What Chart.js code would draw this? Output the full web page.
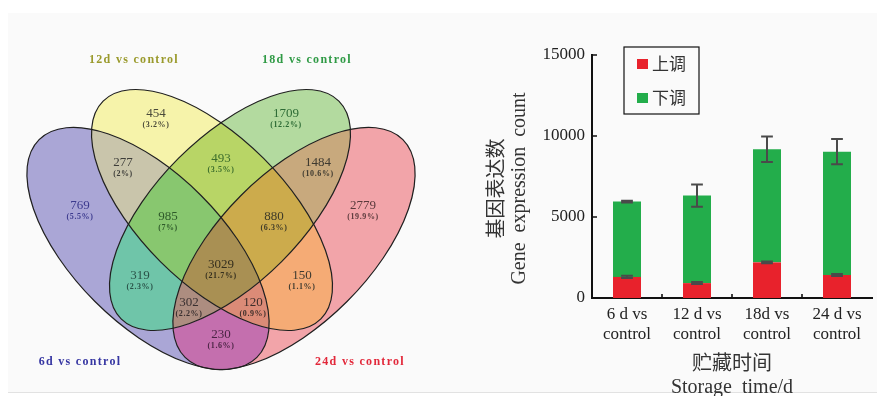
<!DOCTYPE html>
<html>
<head>
<meta charset="utf-8">
<script src="https://cdn.jsdelivr.net/npm/chart.js@4.4.1/dist/chart.umd.min.js"></script>
<style>
  html, body { margin: 0; padding: 0; background: #ffffff; width: 877px; height: 396px; overflow: hidden; position: relative; }
  #panel { position: absolute; left: 8px; top: 13px; width: 869px; height: 379px; background: #fafafa; border-bottom: 1px solid #e2e2e2; }
  #vennBox { position: absolute; left: 0; top: 0; width: 450px; height: 396px; }
  #barBox { position: absolute; left: 450px; top: 0; width: 427px; height: 396px; }
</style>
</head>
<body>
<div id="panel"></div>
<div id="vennBox"><canvas id="venn"></canvas></div>
<div id="barBox"><canvas id="bars"></canvas></div>
<script>
// ---------- Venn diagram data ----------
const vennSets = ['6d vs control', '12d vs control', '18d vs control', '24d vs control'];
// each region lists the indices of the sets it belongs to
const regionKeys = ['0', '1', '2', '3', '01', '12', '23', '012', '123', '0123', '02', '13', '023', '013', '03'];
const regionCounts = [769, 454, 1709, 2779, 277, 493, 1484, 985, 880, 3029, 319, 150, 302, 120, 230];

// ---------- Bar chart data ----------
const categories = [['6 d vs', 'control'], ['12 d vs', 'control'], ['18d vs', 'control'], ['24 d vs', 'control']];
const upCounts = [1300, 920, 2200, 1420];      // 上调
const downCounts = [4650, 5400, 6980, 7610];   // 下调
const upErrors = [70, 60, 60, 60];
const totalErrors = [50, 690, 790, 780];
const yTicks = [0, 5000, 10000, 15000];

// ---------- Styling / layout ----------
const serif = '"Liberation Serif", "Times New Roman", serif';
const cjk = '"Noto Sans CJK SC", "Noto Sans CJK JP", sans-serif';

// ellipse geometry in diagram units (x right, y down)
const vennShapes = [
  { cx: 148, cy: 248.5, a: 154, b: 75, angle: 45 },
  { cx: 212, cy: 210, a: 154, b: 73, angle: 45 },
  { cx: 230, cy: 210, a: 154, b: 73, angle: -45 },
  { cx: 294, cy: 248.5, a: 154, b: 75, angle: -45 }
];
const setLabelColors = ['#3636a2', '#9a9a2c', '#2f9a45', '#e2283a'];
const setLabelPos = [[80, 362], [134, 60], [307, 60], [360, 362]];

const regionFill = ['#aaa6d6', '#f6f3aa', '#b3da9f', '#f2a4a9', '#c9c5ab', '#b8d566', '#c8a97d',
                    '#88c76f', '#ccab4c', '#a99053', '#6fc5a9', '#f5ab75', '#ad8d80', '#db8b77', '#c46fae'];
const regionText = ['#3c3a8e', '#4a4a3a', '#2d6b35', '#5a3a3c', '#3e3e3a', '#3d6e2c', '#3e3a30',
                    '#2f5a2a', '#3e3a28', '#352f1e', '#2a5248', '#3e3a30', '#3a3030', '#3e2e2a', '#4a2444'];
const regionLabelPos = [[80, 206], [156, 114], [286, 114], [363, 206], [123, 163], [221, 159], [318, 163],
                        [168, 217], [274, 217], [221, 265], [140, 276], [302, 276], [189, 303], [253, 303], [221, 335]];

const vennTotal = regionCounts.reduce((s, v) => s + v, 0);
const pctText = v => '(' + (Math.round(v / vennTotal * 1000) / 10) + '%)';

const vennPlugin = {
  id: 'vennShapes',
  beforeDatasetsDraw(chart) {
    const { ctx, scales: { x, y }, width, height } = chart;
    const ux = x.getPixelForValue(1) - x.getPixelForValue(0);
    const uy = Math.abs(y.getPixelForValue(1) - y.getPixelForValue(0));
    const paths = vennShapes.map(s => {
      const p = new Path2D();
      p.ellipse(x.getPixelForValue(s.cx), y.getPixelForValue(s.cy), s.a * ux, s.b * uy,
                s.angle * Math.PI / 180, 0, Math.PI * 2);
      return p;
    });
    regionKeys.forEach((key, r) => {
      ctx.save();
      paths.forEach((p, i) => {
        if (key.includes(String(i))) {
          ctx.clip(p);
        } else {
          const q = new Path2D();
          q.rect(0, 0, width, height);
          q.addPath(p);
          ctx.clip(q, 'evenodd');
        }
      });
      ctx.fillStyle = regionFill[r];
      ctx.fillRect(0, 0, width, height);
      ctx.restore();
    });
    ctx.save();
    ctx.strokeStyle = '#1f1f1f';
    ctx.lineWidth = 1.2;
    paths.forEach(p => ctx.stroke(p));
    ctx.restore();
  },
  afterDatasetsDraw(chart) {
    const { ctx, scales: { x, y } } = chart;
    const meta = chart.getDatasetMeta(0);
    ctx.save();
    ctx.textAlign = 'center';
    ctx.textBaseline = 'middle';
    meta.data.forEach((pt, i) => {
      ctx.fillStyle = regionText[i];
      ctx.font = '13px ' + serif;
      ctx.letterSpacing = '0px';
      ctx.fillText(String(regionCounts[i]), pt.x, pt.y);
      ctx.font = 'bold 8px ' + serif;
      ctx.letterSpacing = '0.6px';
      ctx.fillText(pctText(regionCounts[i]), pt.x, pt.y + 11);
    });
    ctx.font = 'bold 12px ' + serif;
    ctx.letterSpacing = '1.3px';
    vennSets.forEach((name, i) => {
      ctx.fillStyle = setLabelColors[i];
      ctx.fillText(name, x.getPixelForValue(setLabelPos[i][0]), y.getPixelForValue(setLabelPos[i][1]));
    });
    ctx.restore();
  }
};

new Chart(document.getElementById('venn'), {
  type: 'scatter',
  data: {
    datasets: [{
      data: regionCounts.map((v, i) => ({ x: regionLabelPos[i][0], y: regionLabelPos[i][1] })),
      pointRadius: 0
    }]
  },
  options: {
    animation: false,
    responsive: true,
    maintainAspectRatio: false,
    events: [],
    layout: { padding: 0 },
    plugins: { legend: { display: false }, tooltip: { enabled: false } },
    scales: {
      x: { type: 'linear', display: false, min: 0, max: 450 },
      y: { type: 'linear', display: false, min: 0, max: 396, reverse: true }
    }
  },
  plugins: [vennPlugin]
});

// ---------- stacked bar chart ----------
const barExtras = {
  id: 'barExtras',
  afterDatasetsDraw(chart) {
    const { ctx, scales: { y } } = chart;
    const metaUp = chart.getDatasetMeta(0);
    const metaDown = chart.getDatasetMeta(1);
    ctx.save();
    ctx.strokeStyle = '#4a4a4a';
    ctx.lineWidth = 2;
    const drawErr = (px, half, value, err) => {
      const yHi = y.getPixelForValue(value + err);
      const yLo = y.getPixelForValue(value - err);
      ctx.beginPath();
      ctx.moveTo(px, yHi); ctx.lineTo(px, yLo);
      ctx.moveTo(px - half, yHi); ctx.lineTo(px + half, yHi);
      ctx.moveTo(px - half, yLo); ctx.lineTo(px + half, yLo);
      ctx.stroke();
    };
    upCounts.forEach((v, i) => {
      const el = metaUp.data[i];
      drawErr(el.x, el.width * 0.21, v, upErrors[i]);
      const el2 = metaDown.data[i];
      drawErr(el2.x, el2.width * 0.21, v + downCounts[i], totalErrors[i]);
    });
    ctx.restore();
  },
  afterDraw(chart) {
    const { ctx, chartArea: { left, right, top, bottom }, scales: { x, y } } = chart;
    ctx.save();
    // inward tick marks
    ctx.strokeStyle = '#111';
    ctx.lineWidth = 1.6;
    ctx.beginPath();
    y.ticks.forEach(t => {
      if (t.value === 0) return;
      const py = y.getPixelForValue(t.value);
      ctx.moveTo(left, py); ctx.lineTo(left + 5, py);
    });
    for (let i = 1; i < categories.length; i++) {
      const px = (x.getPixelForValue(i - 1) + x.getPixelForValue(i)) / 2;
      ctx.moveTo(px, bottom); ctx.lineTo(px, bottom - 4);
    }
    ctx.stroke();

    // axis titles
    ctx.fillStyle = '#333';
    ctx.textAlign = 'center';
    ctx.textBaseline = 'middle';
    const midY = (top + bottom) / 2 + 12;
    ctx.save();
    ctx.translate(left - 97, midY);
    ctx.rotate(-Math.PI / 2);
    ctx.font = '20px ' + cjk;
    ctx.fillText('基因表达数', 0, 0);
    ctx.restore();
    ctx.save();
    ctx.translate(left - 72, midY);
    ctx.rotate(-Math.PI / 2);
    ctx.font = '20px ' + serif;
    ctx.fillText('Gene  expression  count', 0, 0);
    ctx.restore();
    const midX = (left + right) / 2;
    ctx.font = '20px ' + cjk;
    ctx.fillText('贮藏时间', midX, bottom + 64);
    ctx.font = '20px ' + serif;
    ctx.textBaseline = 'alphabetic';
    ctx.fillText('Storage  time/d', midX, bottom + 95);

    // legend box
    const bx = left + 32, by = top - 8, bw = 75, bh = 67;
    ctx.strokeStyle = '#111';
    ctx.lineWidth = 1.2;
    ctx.strokeRect(bx, by, bw, bh);
    ctx.textAlign = 'left';
    ctx.textBaseline = 'middle';
    ctx.font = '17px ' + cjk;
    chart.data.datasets.forEach((ds, i) => {
      const cy = by + 17 + i * 34;
      ctx.fillStyle = ds.backgroundColor;
      ctx.fillRect(bx + 13, cy - 5, 11, 10);
      ctx.fillStyle = '#333';
      ctx.fillText(ds.label, bx + 28, cy);
    });
    ctx.restore();
  }
};

new Chart(document.getElementById('bars'), {
  type: 'bar',
  data: {
    labels: categories,
    datasets: [
      { label: '上调', data: upCounts, backgroundColor: '#e8222c', borderWidth: 0 },
      { label: '下调', data: downCounts, backgroundColor: '#23ad4b', borderWidth: 0 }
    ]
  },
  options: {
    animation: false,
    responsive: true,
    maintainAspectRatio: false,
    events: [],
    layout: { padding: { top: 55, right: 5, left: 0, bottom: 0 } },
    datasets: { bar: { barPercentage: 0.4, categoryPercentage: 1.0 } },
    plugins: { legend: { display: false }, tooltip: { enabled: false } },
    scales: {
      x: {
        stacked: true,
        offset: true,
        grid: { display: false, drawTicks: false },
        border: { display: true, color: '#111', width: 2 },
        ticks: { color: '#222', font: { family: serif, size: 17, lineHeight: 1.2 }, padding: 6,
                 maxRotation: 0, autoSkip: false },
        afterFit(scale) { scale.height = 98; }
      },
      y: {
        stacked: true,
        min: 0,
        max: 15000,
        grid: { display: false, drawTicks: false },
        border: { display: true, color: '#111', width: 2 },
        ticks: { color: '#222', font: { family: serif, size: 17 }, padding: 7,
                 callback: v => String(v) },
        afterBuildTicks(scale) { scale.ticks = yTicks.map(v => ({ value: v })); },
        afterFit(scale) { scale.width = 142; }
      }
    }
  },
  plugins: [barExtras]
});
</script>
</body>
</html>
